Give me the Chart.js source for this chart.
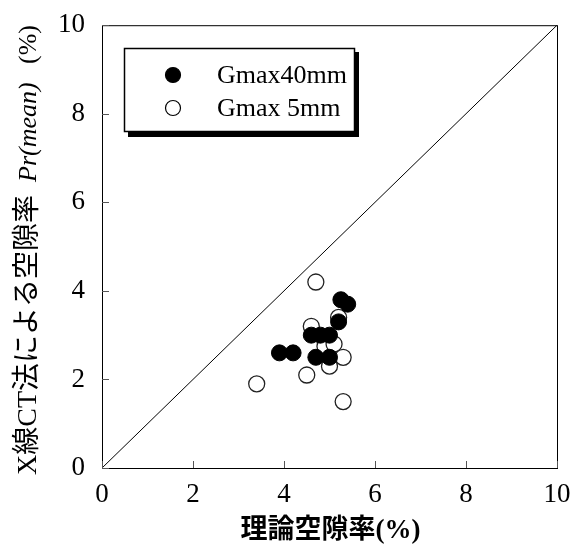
<!DOCTYPE html>
<html>
<head>
<meta charset="utf-8">
<script src="https://cdn.jsdelivr.net/npm/chart.js@4.4.0/dist/chart.umd.min.js"></script>
<style>
  body { margin: 0; background: #fff; }
  #wrap { width: 577px; height: 544px; }
</style>
</head>
<body>
<div id="wrap"><canvas id="myChart"></canvas></div>
<script>
// values
var seriesNames = ["Gmax40mm", "Gmax 5mm"];
var g40x = [3.9, 4.2, 4.6, 4.8, 5.0, 4.7, 5.0, 5.2, 5.25, 5.4];
var g40y = [2.6, 2.6, 3.0, 3.0, 3.0, 2.5, 2.5, 3.3, 3.8, 3.7];
var g5x = [4.7, 5.2, 4.6, 4.9, 5.1, 5.3, 5.0, 4.5, 3.4, 5.3];
var g5y = [4.2, 3.4, 3.2, 2.75, 2.8, 2.5, 2.3, 2.1, 1.9, 1.5];
var lineX = [0, 10];
var lineY = [0, 10];
var tickValues = [0, 2, 4, 6, 8, 10];
var xTitle = "理論空隙率(%)";
var yTitleJp = "X線CT法による空隙率";
var yTitleIt = "Pr(mean)";
var yTitleUnit = "(%)";

function pts(xs, ys) {
	var out = [];
	for (let i = 0; i < xs.length; i++) out.push({x: xs[i], y: ys[i]});
	return out;
}

const serif = "'Liberation Serif', 'Noto Sans CJK JP', serif";

// frame, inward ticks, legend box and axis titles
const decor = {
	id: 'decor',
	afterDraw(c) {
		const ctx = c.ctx;
		const a = c.chartArea;
		const xs = c.scales.x, ys = c.scales.y;
		ctx.save();
		ctx.strokeStyle = '#000';
		ctx.lineWidth = 1;
		ctx.strokeRect(a.left + 0.5, a.top + 0.5, a.right - a.left, a.bottom - a.top);
		ctx.strokeStyle = '#555';
		for (const v of tickValues) {
			const px = Math.round(xs.getPixelForValue(v)) + 0.5;
			ctx.beginPath(); ctx.moveTo(px, a.bottom); ctx.lineTo(px, a.bottom - 7); ctx.stroke();
			const py = Math.round(ys.getPixelForValue(v)) + 0.5;
			ctx.beginPath(); ctx.moveTo(a.left, py); ctx.lineTo(a.left + 7, py); ctx.stroke();
		}

		// legend
		ctx.fillStyle = '#000';
		ctx.fillRect(128, 52, 231, 85);
		ctx.fillStyle = '#fff';
		ctx.fillRect(124, 48, 231, 84);
		ctx.strokeStyle = '#000';
		ctx.lineWidth = 1.5;
		ctx.strokeRect(124.5, 48.5, 230, 83);
		const ds = c.data.datasets;
		const rows = [75, 108];
		ctx.font = "26px " + serif;
		ctx.textBaseline = 'middle';
		for (let i = 0; i < 2; i++) {
			ctx.beginPath();
			ctx.arc(173, rows[i], 7.5, 0, Math.PI * 2);
			ctx.fillStyle = ds[i].backgroundColor;
			ctx.fill();
			ctx.lineWidth = 1.2;
			ctx.strokeStyle = '#000';
			ctx.stroke();
			ctx.fillStyle = '#000';
			ctx.fillText(ds[i].label, 217, rows[i] + 1);
		}

		// x title
		ctx.font = "bold 27px " + serif;
		ctx.textAlign = 'center';
		ctx.fillText(xTitle, (a.left + a.right) / 2 + 1, 531);

		// y title, written upward from the bottom
		ctx.translate(29, 0);
		ctx.rotate(-Math.PI / 2);
		ctx.textAlign = 'left';
		ctx.font = "28px " + serif;
		ctx.fillText(yTitleJp, -475, 0);
		ctx.font = "italic 26px 'Liberation Serif', serif";
		ctx.fillText(yTitleIt, -182, 0);
		ctx.font = "26px 'Liberation Serif', serif";
		ctx.fillText(yTitleUnit, -64, 0);
		ctx.restore();
	}
};

new Chart(document.getElementById('myChart'), {
	type: 'scatter',
	data: {
		datasets: [{
			label: seriesNames[0],
			data: pts(g40x, g40y),
			backgroundColor: '#000',
			borderColor: '#000',
			borderWidth: 1,
			pointRadius: 8,
			pointHoverRadius: 8
		}, {
			label: seriesNames[1],
			data: pts(g5x, g5y),
			backgroundColor: '#fff',
			borderColor: '#222',
			borderWidth: 1.3,
			pointRadius: 8,
			pointHoverRadius: 8
		}, {
			label: 'diag',
			data: pts(lineX, lineY),
			showLine: true,
			pointRadius: 0,
			borderColor: '#000',
			borderWidth: 1
		}]
	},
	options: {
		responsive: true,
		maintainAspectRatio: false,
		animation: false,
		layout: {padding: {left: 0, right: 20, top: 12, bottom: 0}},
		plugins: {
			legend: {display: false},
			tooltip: {enabled: false}
		},
		scales: {
			x: {
				type: 'linear', min: 0, max: 10,
				grid: {display: false},
				border: {display: false},
				afterFit: function(s) { s.height = 76; },
				afterBuildTicks: function(s) { s.ticks = tickValues.map(v => ({value: v})); },
				ticks: {color: '#000', padding: 3, maxRotation: 0, font: {family: serif, size: 27}}
			},
			y: {
				type: 'linear', min: 0, max: 10,
				grid: {display: false},
				border: {display: false},
				afterFit: function(s) { s.width = 102; },
				afterBuildTicks: function(s) { s.ticks = tickValues.map(v => ({value: v})); },
				ticks: {color: '#000', padding: 9, font: {family: serif, size: 27}}
			}
		}
	},
	plugins: [decor]
});
</script>
</body>
</html>
